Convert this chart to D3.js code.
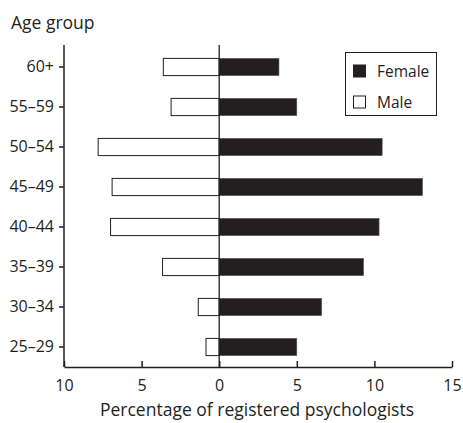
<!DOCTYPE html>
<html>
<head>
<meta charset="utf-8">
<script src="https://cdn.jsdelivr.net/npm/d3@7"></script>
<style>
  body { margin: 0; background: #fff; }
  text { font-family: "Open Sans", "Lato", sans-serif; fill: #231f20; }
</style>
</head>
<body>
<div id="chart"></div>
<script>
// data
const ageGroups = ["60+", "55\u201359", "50\u201354", "45\u201349", "40\u201344", "35\u201339", "30\u201334", "25\u201329"]
const female = [3.85, 5.0, 10.5, 13.1, 10.3, 9.3, 6.6, 5.0]
const male = [3.6, 3.1, 7.8, 6.9, 7.0, 3.65, 1.35, 0.85]
const xTicks = [-10, -5, 0, 5, 10, 15]

const width = 463, height = 423
const ink = "#231f20"

const svg = d3.select("#chart").append("svg")
    .attr("width", width)
    .attr("height", height)

// scales
const x = d3.scaleLinear().domain([-10, 15]).range([64, 452])
const y = d3.scaleBand().domain(ageGroups).range([47, 367]).paddingInner(0.57).paddingOuter(0.285)

// bars
const rows = ageGroups.map((g, i) => ({ group: g, female: female[i], male: male[i] }))

svg.append("g").selectAll("rect")
    .data(rows)
    .join("rect")
    .attr("x", d => x(-d.male))
    .attr("y", d => y(d.group))
    .attr("width", d => x(0) - x(-d.male))
    .attr("height", y.bandwidth())
    .attr("fill", "#fff")
    .attr("stroke", ink)
    .attr("stroke-width", 1)

svg.append("g").selectAll("rect")
    .data(rows)
    .join("rect")
    .attr("x", x(0))
    .attr("y", d => y(d.group))
    .attr("width", d => x(d.female) - x(0))
    .attr("height", y.bandwidth())
    .attr("fill", ink)
    .attr("stroke", "#555")
    .attr("stroke-width", 0.6)

// zero line
svg.append("line")
    .attr("x1", x(0)).attr("x2", x(0))
    .attr("y1", 45).attr("y2", 367)
    .attr("stroke", ink)
    .attr("stroke-width", 1.3)

// x axis (ticks pointing inward)
const xAxis = svg.append("g")
    .attr("transform", "translate(0,367)")
    .call(d3.axisBottom(x).tickValues(xTicks).tickSizeInner(-6).tickSizeOuter(0)
        .tickPadding(13).tickFormat(d => Math.abs(d)))
xAxis.attr("font-size", null).attr("font-family", null)
xAxis.select(".domain").attr("stroke", ink).attr("stroke-width", 1.5)
xAxis.selectAll(".tick line").attr("stroke", ink).attr("stroke-width", 1.5)
xAxis.selectAll("text").style("font-size", "16px").style("fill", ink)

// y axis
const yAxis = svg.append("g")
    .attr("transform", "translate(64,0)")
    .call(d3.axisLeft(y).tickSizeInner(5).tickSizeOuter(0).tickPadding(5))
yAxis.attr("font-size", null).attr("font-family", null)
yAxis.select(".domain").attr("d", "M0,45V367").attr("stroke", ink).attr("stroke-width", 1.5)
yAxis.selectAll(".tick line").attr("stroke", ink).attr("stroke-width", 1.5)
yAxis.selectAll("text").style("font-size", "16px").style("fill", ink)

// titles
svg.append("text")
    .attr("x", 11).attr("y", 29)
    .style("font-size", "17.5px")
    .text("Age group")

svg.append("text")
    .attr("x", 257).attr("y", 416)
    .attr("text-anchor", "middle")
    .style("font-size", "17.5px")
    .text("Percentage of registered psychologists")

// legend
const legend = svg.append("g")
legend.append("rect")
    .attr("x", 345.5).attr("y", 52.5)
    .attr("width", 91).attr("height", 63)
    .attr("fill", "#fff")
    .attr("stroke", ink)
    .attr("stroke-width", 1)

const legendItems = [{ label: "Female", fill: ink }, { label: "Male", fill: "#fff" }]
legendItems.forEach((item, i) => {
    const cy = 71 + i * 31
    legend.append("rect")
        .attr("x", 353.5).attr("y", cy - 6)
        .attr("width", 12).attr("height", 12)
        .attr("fill", item.fill)
        .attr("stroke", ink)
        .attr("stroke-width", 1)
    legend.append("text")
        .attr("x", 377).attr("y", cy + 5.5)
        .style("font-size", "15.5px")
        .text(item.label)
})
</script>
</body>
</html>
